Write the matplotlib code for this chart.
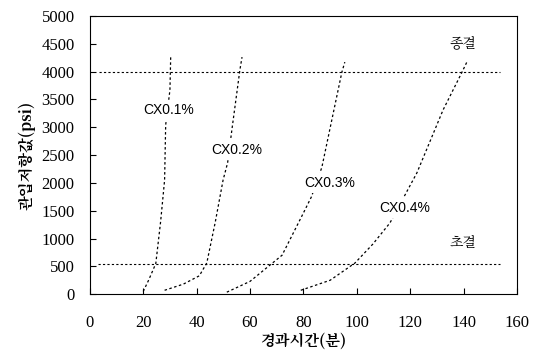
import matplotlib.pyplot as plt

plt.rcParams['font.family'] = ['Liberation Serif', 'DejaVu Serif', 'Noto Sans CJK KR']

# curve points (minutes, psi)
cx01_t = [20, 22, 24.7, 26.5, 28, 28.4, 30, 30.3]
cx01_p = [50, 250, 550, 1300, 2050, 3040, 3670, 4300]
cx02_t = [28, 35, 41, 43.8, 47, 49.9, 51.6, 53.3, 56.2, 57]
cx02_p = [70, 180, 330, 560, 1300, 2050, 2360, 2990, 4030, 4260]
cx03_t = [51.3, 60, 67.4, 72, 80, 83, 86.9, 94.4, 95.5]
cx03_p = [36, 230, 520, 700, 1460, 1750, 2280, 3990, 4170]
cx04_t = [79, 90, 99.3, 106, 112.4, 122.5, 132.3, 139.4, 141.2]
cx04_p = [70, 250, 560, 900, 1280, 2180, 3310, 3990, 4170]

labels = ['CX0.1%', 'CX0.2%', 'CX0.3%', 'CX0.4%']
label_t = [29.5, 55, 90, 118]
label_p = [3310, 2590, 2000, 1550]

final_set = 4000
initial_set = 550

kr_fonts = ['Nanum Myeongjo', 'Noto Serif CJK KR', 'Noto Sans CJK KR']

fig = plt.figure(figsize=(5.38, 3.54), dpi=100)
ax = fig.add_axes([0.167, 0.169, 0.794, 0.786])

dot = (0, (2, 2))
for t, p in [(cx01_t, cx01_p), (cx02_t, cx02_p), (cx03_t, cx03_p), (cx04_t, cx04_p)]:
    ax.plot(t, p, color='black', lw=0.9, linestyle=dot)

ax.plot([3.5, 153.5], [final_set, final_set], color='black', lw=0.8, linestyle=dot)
ax.plot([3, 153.5], [initial_set, initial_set], color='black', lw=0.8, linestyle=dot)

for name, t, p in zip(labels, label_t, label_p):
    ax.text(t, p, name, ha='center', va='center', fontsize=10,
            family=['Liberation Sans Narrow', 'Liberation Sans', 'DejaVu Sans'],
            bbox=dict(facecolor='white', edgecolor='none', pad=2))

ax.text(139.7, 4500, '종결', ha='center', va='center', fontsize=10, family=kr_fonts)
ax.text(139.7, 920, '초결', ha='center', va='center', fontsize=10, family=kr_fonts)

ax.set_xlim(0, 160)
ax.set_ylim(0, 5000)
ax.set_xticks(range(0, 161, 20))
ax.set_yticks(range(0, 5001, 500))
ax.tick_params(direction='in', labelsize=12, length=4)
ax.tick_params(axis='x', pad=15)
ax.tick_params(axis='y', pad=11)
for lbl in ax.get_xticklabels() + ax.get_yticklabels():
    lbl.set_fontfamily(['Liberation Serif', 'DejaVu Serif'])

ax.set_xlabel('경과시간(분)', fontsize=11, family=kr_fonts,
              fontweight='bold', labelpad=1)
ax.set_ylabel('관입저항값(psi)', fontsize=11, family=kr_fonts,
              fontweight='bold', labelpad=4)

fig.savefig('out.png', dpi=100)
